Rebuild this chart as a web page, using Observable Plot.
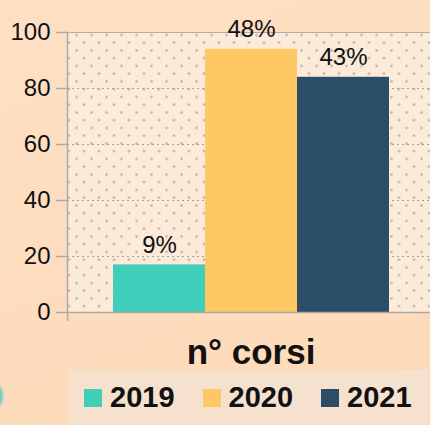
<!DOCTYPE html>
<html>
<head>
<meta charset="utf-8">
<script src="https://cdn.jsdelivr.net/npm/d3@7"></script>
<script src="https://cdn.jsdelivr.net/npm/@observablehq/plot@0.6"></script>
<style>
  html, body { margin: 0; padding: 0; }
  body {
    width: 430px; height: 425px; overflow: hidden;
    background: linear-gradient(160deg, #fde0c4 0%, #fddcbd 60%, #fcd9b8 100%);
    font-family: "Liberation Sans", Arial, sans-serif;
    position: relative;
  }
  #chart svg { display: block; background: transparent; }
  #legend {
    position: absolute; left: 69px; top: 370px; width: 359px; height: 55px;
    background: #f5e1cd; display: flex; align-items: center;
    box-sizing: border-box; padding-left: 15px; gap: 28px;
  }
  .item { display: flex; align-items: center; gap: 8px; font-weight: bold; font-size: 29px; color: #111; }
  .sw { width: 18px; height: 18px; display: inline-block; }
  #deco { position: absolute; left: -34px; top: 378px; width: 37px; height: 36px; border-radius: 50%; background: #6fd0c2; filter: blur(1px); }
</style>
</head>
<body>
<div id="chart"></div>
<div id="legend"></div>
<div id="deco"></div>
<script>
const category = "n° corsi";
const years = ["2019", "2020", "2021"];
const values = [17, 94, 84];
const percentLabels = ["9%", "48%", "43%"];
const colors = ["#40cdb9", "#fec865", "#2c4d66"];
const yTicks = [0, 20, 40, 60, 80, 100];

const data = years.map((y, i) => ({year: y, value: values[i], label: percentLabels[i]}));

const plot = Plot.plot({
  width: 430,
  height: 370,
  marginLeft: 67,
  marginRight: 0,
  marginTop: 32,
  marginBottom: 58,
  style: {fontFamily: "Liberation Sans, Arial, sans-serif", background: "transparent", overflow: "visible"},
  x: {domain: years, padding: 0, insetLeft: 45, insetRight: 40, axis: null},
  y: {domain: [0, 100], axis: null},
  color: {domain: years, range: colors},
  marks: [
    Plot.frame({fill: "url(#dots)", stroke: null}),
    Plot.gridY(yTicks.filter(d => d > 0 && d < 100), {stroke: "#a8a098", strokeOpacity: 1, strokeDasharray: "2,3"}),
    Plot.ruleY([100], {stroke: "#b4aea8", strokeWidth: 1.2}),
    Plot.barY(data, {x: "year", y: "value", fill: "year"}),
    Plot.text(data, {x: "year", y: "value", text: "label", dy: -12, lineAnchor: "bottom", fontSize: 24, fill: "#111"}),
    Plot.ruleY([0], {stroke: "#b0aaa4", strokeWidth: 1.5}),
    Plot.frame({anchor: "left", stroke: "#b0aaa4", strokeWidth: 1.5, insetBottom: -8}),
    Plot.axisY(yTicks, {label: null, tickSize: 11, tickPadding: 6, fontSize: 24, stroke: "#b0aaa4", fill: "#111", strokeWidth: 1.5}),
    Plot.text([category], {frameAnchor: "bottom", dy: 40, dx: 2, lineAnchor: "middle", fontSize: 35, fontWeight: "bold", fill: "#111"})
  ]
});

// dotted pattern for the plot background
const ns = "http://www.w3.org/2000/svg";
const defs = document.createElementNS(ns, "defs");
defs.innerHTML = `<pattern id="dots" patternUnits="userSpaceOnUse" width="15" height="15.5">
  <rect width="15" height="15.5" fill="#fdebd9"/>
  <circle cx="1" cy="3.5" r="1.2" fill="#b3aaa1"/>
  <circle cx="8.5" cy="11.25" r="1.2" fill="#b3aaa1"/>
</pattern>`;
plot.insertBefore(defs, plot.firstChild);
document.getElementById("chart").appendChild(plot);

const legend = document.getElementById("legend");
years.forEach((y, i) => {
  const it = document.createElement("div");
  it.className = "item";
  it.innerHTML = `<span class="sw" style="background:${colors[i]}"></span><span>${y}</span>`;
  legend.appendChild(it);
});
</script>
</body>
</html>
